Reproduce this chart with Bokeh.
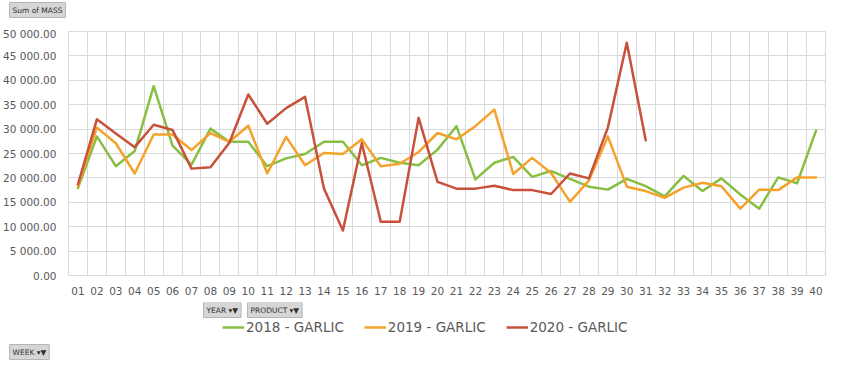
from bokeh.plotting import figure
from bokeh.layouts import column
from bokeh.models import Range1d, FixedTicker, Legend, LegendItem, Label, Title
from bokeh.embed import file_html
from bokeh.resources import INLINE

weeks = ["%02d" % i for i in range(1, 41)]

mass_2018 = [17900, 28500, 22400, 25500, 38800, 26600, 22700, 30100, 27400, 27400,
             22400, 24000, 24900, 27400, 27400, 22600, 24100, 23100, 22600, 25800,
             30600, 19700, 23100, 24300, 20200, 21400, 19800, 18200, 17600, 19800,
             18300, 16200, 20400, 17300, 19900, 16600, 13700, 20100, 18900, 29700]
mass_2019 = [18300, 30300, 27100, 20900, 28900, 28900, 25700, 29200, 27400, 30700,
             20900, 28400, 22600, 25100, 24900, 27900, 22400, 22900, 25300, 29200,
             27900, 30600, 34000, 20800, 24100, 21000, 15100, 19500, 28500, 18200,
             17300, 15900, 18000, 19000, 18300, 13700, 17600, 17500, 20100, 20100]
mass_2020 = [18700, 32000, 29100, 26300, 30900, 29800, 21900, 22200, 27200, 37100,
             31100, 34300, 36600, 17800, 9200, 27100, 11000, 11000, 32300, 19200,
             17800, 17800, 18400, 17500, 17500, 16700, 20900, 19900, 30300, 47700,
             27700]

series_names = ["2018 - GARLIC", "2019 - GARLIC", "2020 - GARLIC"]
series_colors = ["#86bf42", "#f5a22d", "#c9503b"]
series_values = [mass_2018, mass_2019, mass_2020]

y_ticks = [0, 5000, 10000, 15000, 20000, 25000, 30000, 35000, 40000, 45000, 50000]
y_tick_labels = ["0.00", "5 000.00", "10 000.00", "15 000.00", "20 000.00", "25 000.00",
                 "30 000.00", "35 000.00", "40 000.00", "45 000.00", "50 000.00"]

FONT = "DejaVu Sans"
TXT = "#595959"
GRID = "#d9d9d9"
BTN_BG = "#d6d6d6"
BTN_LINE = "#b5b5b5"
BTN_TXT = "#303030"
W = 828

x_pos = list(range(1, len(weeks) + 1))


def bare(height, top_border=0):
    f = figure(width=W, height=height, output_backend="svg", toolbar_location=None,
               x_axis_location=None, y_axis_location=None,
               x_range=Range1d(0, 1), y_range=Range1d(-2, -1),
               min_border=0, min_border_left=0, min_border_right=0,
               min_border_top=top_border, min_border_bottom=0)
    f.outline_line_color = None
    f.grid.visible = False
    return f


def button(x, y, text):
    return Label(x=x, y=y, x_units="screen", y_units="screen", text=text,
                 text_font=FONT, text_font_size="7.5px", text_color=BTN_TXT,
                 background_fill_color=BTN_BG, border_line_color=BTN_LINE,
                 padding=3)


def button_title(text):
    t = Title(text=text, align="left", offset=-59, standoff=0,
              text_font=FONT, text_font_size="7.5px", text_font_style="normal",
              text_color=BTN_TXT, background_fill_color=BTN_BG,
              border_line_color=BTN_LINE)
    if "padding" in Title.properties():
        t.padding = 3
    return t


# top strip with the value-field button
top = bare(27, top_border=16)
top.title = button_title("Sum of MASS")

# main chart
p = figure(width=W, height=275, output_backend="svg", toolbar_location=None,
           x_range=Range1d(0.5, len(weeks) + 0.5), y_range=Range1d(0, 50000),
           min_border_left=61, min_border_right=3, min_border_top=4, min_border_bottom=27)
p.outline_line_color = GRID
p.outline_line_width = 1

p.xaxis.ticker = FixedTicker(ticks=x_pos)
p.xaxis.major_label_overrides = {x: w for x, w in zip(x_pos, weeks)}
p.yaxis.ticker = FixedTicker(ticks=y_ticks)
p.yaxis.major_label_overrides = {t: s for t, s in zip(y_ticks, y_tick_labels)}
for ax in (p.xaxis[0], p.yaxis[0]):
    ax.axis_line_color = None
    ax.major_tick_line_color = None
    ax.minor_tick_line_color = None
    ax.major_label_text_font = FONT
    ax.major_label_text_font_size = "10.5px"
    ax.major_label_text_color = TXT
p.xaxis.major_label_standoff = 5
p.yaxis.major_label_standoff = 6

p.xgrid.ticker = FixedTicker(ticks=[x + 0.5 for x in x_pos[:-1]])
p.xgrid.grid_line_color = GRID
p.ygrid.ticker = FixedTicker(ticks=y_ticks)
p.ygrid.grid_line_color = GRID

for name, color, vals in zip(series_names, series_colors, series_values):
    p.line(x_pos[:len(vals)], vals, line_color=color, line_width=2.5,
           line_join="round", line_cap="round")

# bottom strip: filter buttons and legend (series drawn out of view, legend only)
bottom = bare(40)
items = []
for name, color, vals in zip(series_names, series_colors, series_values):
    r = bottom.line(x_pos[:len(vals)], vals, line_color=color, line_width=2.5)
    items.append(LegendItem(label=name, renderers=[r]))
legend = Legend(items=items, orientation="horizontal", location=(154, 7),
                padding=0, margin=0, spacing=20, glyph_width=22, glyph_height=14,
                label_standoff=2, label_text_font=FONT, label_text_font_size="13.5px",
                label_text_color=TXT, border_line_color=None, background_fill_alpha=0)
bottom.add_layout(legend)
bottom.add_layout(button(135, 25, "YEAR \u25be\u25bc"))
bottom.add_layout(button(179, 25, "PRODUCT \u25be\u25bc"))

# axis-field button strip
week = bare(18, top_border=17)
week.title = button_title("WEEK \u25be\u25bc")

layout = column(top, p, bottom, week, spacing=0)
open("out.html", "w").write(file_html(layout, INLINE))
